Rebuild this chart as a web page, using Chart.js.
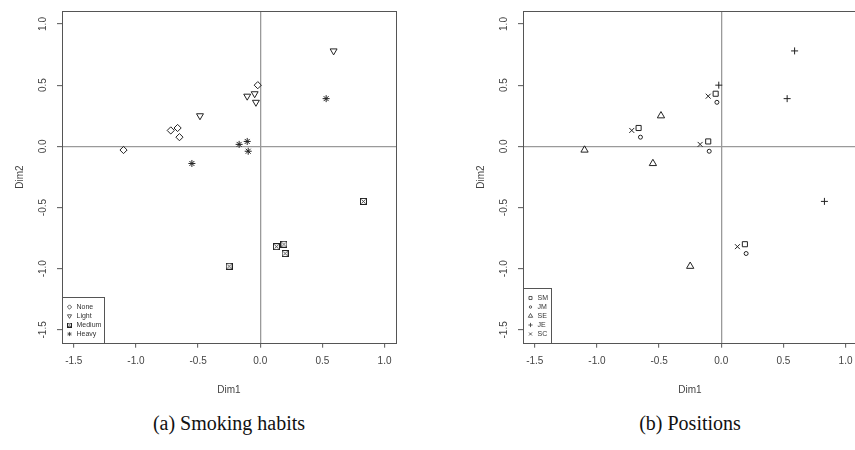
<!doctype html>
<html>
  <head>
    <meta charset="utf-8" />
    <title>Smoking habits / Positions</title>
    <script src="https://cdn.jsdelivr.net/npm/chart.js"></script>
    <style>
      body { margin: 0; width: 855px; height: 450px; overflow: hidden; background: #fff; position: relative; }
      canvas { position: absolute; top: 0; }
      #left { left: 0; }
      #right { left: 461px; }
      .caption {
        position: absolute; top: 413px; width: 300px; text-align: center;
        font-family: "Liberation Serif", serif; font-size: 20px; line-height: 20px; color: #111;
      }
    </style>
  </head>
  <body>
    <canvas id="left" width="427" height="400"></canvas>
    <canvas id="right" width="427" height="400"></canvas>
    <div class="caption" style="left: 79px">(a) Smoking habits</div>
    <div class="caption" style="left: 540px">(b) Positions</div>
    <script>
      const positions = ["SM", "JM", "SE", "JE", "SC"];
      const habits = ["None", "Light", "Medium", "Heavy"];
      // one row per position, one column per smoking habit
      const dim1 = [
        [-0.665, -0.045, 0.19, -0.105],
        [-0.65, -0.035, 0.2, -0.097],
        [-1.1, -0.485, -0.25, -0.55],
        [-0.02, 0.59, 0.83, 0.53],
        [-0.72, -0.105, 0.13, -0.17],
      ];
      const dim2 = [
        [0.15, 0.43, -0.8, 0.04],
        [0.075, 0.36, -0.876, -0.04],
        [-0.03, 0.25, -0.98, -0.14],
        [0.5, 0.78, -0.45, 0.39],
        [0.13, 0.41, -0.82, 0.016],
      ];
      const tickValues = [-1.5, -1.0, -0.5, 0.0, 0.5, 1.0];

      const ink = "#222";
      const axisFont = { family: "'Liberation Sans', Arial, sans-serif", size: 10 };

      // R's pch 7: square with a cross inside
      function boxCross(size) {
        const c = document.createElement("canvas");
        c.width = c.height = size;
        const g = c.getContext("2d");
        g.strokeStyle = ink;
        g.lineWidth = 1;
        g.strokeRect(0.5, 0.5, size - 1, size - 1);
        g.lineWidth = 0.8;
        g.beginPath();
        g.moveTo(1.5, 1.5);
        g.lineTo(size - 1.5, size - 1.5);
        g.moveTo(size - 1.5, 1.5);
        g.lineTo(1.5, size - 1.5);
        g.stroke();
        return c;
      }

      const habitStyles = [
        { pointStyle: "rectRot", pointRadius: 3.6 },
        { pointStyle: "triangle", pointRotation: 180, pointRadius: 4 },
        { pointStyle: boxCross(7), pointRadius: 3.5, legendStyle: boxCross(5) },
        { pointStyle: "star", pointRadius: 3.5 },
      ];
      const positionStyles = [
        { pointStyle: "rect", pointRadius: 3.6 },
        { pointStyle: "circle", pointRadius: 2 },
        { pointStyle: "triangle", pointRadius: 4.2 },
        { pointStyle: "cross", pointRadius: 3.5 },
        { pointStyle: "crossRot", pointRadius: 3.5 },
      ];

      const framePlugin = {
        id: "frame",
        afterDatasetsDraw(chart) {
          const { ctx, chartArea: a } = chart;
          const L = Math.round(a.left) + 0.5;
          const T = Math.round(a.top) + 0.5;
          const B = Math.round(a.bottom) + 0.5;
          ctx.save();
          ctx.strokeStyle = "#555";
          ctx.lineWidth = 1;
          ctx.strokeRect(L, T, Math.round(a.right - a.left), B - T);

          // legend in the bottom-left corner
          const sets = chart.data.datasets;
          ctx.font = "7px 'Liberation Sans', Arial, sans-serif";
          const w = Math.round(Math.max(...sets.map((d) => ctx.measureText(d.label).width)) + 17.5);
          const h = sets.length * 9 + 10;
          ctx.fillStyle = "#fff";
          ctx.fillRect(L, B - h, w, h);
          ctx.strokeRect(L, B - h, w, h);
          sets.forEach((d, i) => {
            const y = B - h + 5 + 9 * (i + 0.5);
            ctx.strokeStyle = "#333";
            ctx.fillStyle = "rgba(0,0,0,0)";
            ctx.lineWidth = 0.8;
            Chart.helpers.drawPoint(
              ctx,
              {
                pointStyle: d.legendStyle || d.pointStyle,
                rotation: d.pointRotation || 0,
                radius: d.pointRadius * 0.6,
                borderWidth: 0.8,
              },
              L + 7,
              y
            );
            ctx.fillStyle = "#333";
            ctx.textBaseline = "middle";
            ctx.textAlign = "left";
            ctx.fillText(d.label, L + 14, y);
          });
          ctx.restore();
        },
      };

      function makeScales() {
        const grid = {
          drawOnChartArea: true,
          drawTicks: true,
          tickLength: 5,
          tickColor: "#555",
          tickWidth: 1,
          lineWidth: 1.3,
          color: (c) => (c.tick && c.tick.value === 0 ? "#9a9a9a" : "rgba(0,0,0,0)"),
        };
        const setTicks = (s) => {
          s.ticks = tickValues.map((v) => ({ value: v }));
        };
        return {
          x: {
            type: "linear",
            min: -1.595,
            max: 1.092,
            afterBuildTicks: setTicks,
            grid: grid,
            border: { display: false },
            ticks: { autoSkip: false, padding: 8, color: "#444", font: axisFont, callback: (v) => v.toFixed(1) },
            title: { display: true, text: "Dim1", color: "#444", font: axisFont, padding: 0 },
            afterFit: (s) => {
              s.height = 53.3;
            },
          },
          y: {
            type: "linear",
            min: -1.605,
            max: 1.103,
            afterBuildTicks: setTicks,
            grid: grid,
            border: { display: false },
            ticks: {
              autoSkip: false,
              minRotation: 90,
              maxRotation: 90,
              crossAlign: "center",
              padding: 5.4,
              color: "#444",
              font: axisFont,
              callback: (v) => v.toFixed(1),
            },
            title: { display: true, text: "Dim2", color: "#444", font: axisFont, padding: { top: 14, bottom: 0 } },
            afterFit: (s) => {
              s.width = 62;
            },
          },
        };
      }

      function makeChart(id, datasets) {
        return new Chart(document.getElementById(id), {
          type: "scatter",
          data: { datasets: datasets },
          options: {
            responsive: false,
            animation: false,
            layout: { padding: { left: 0, top: 8, right: 31, bottom: 4 } },
            plugins: { legend: { display: false }, tooltip: { enabled: false } },
            scales: makeScales(),
          },
          plugins: [framePlugin],
        });
      }

      const pointBase = { borderColor: ink, backgroundColor: "rgba(0,0,0,0)", pointBorderWidth: 1, showLine: false };

      makeChart(
        "left",
        habits.map((h, j) => ({
          label: h,
          data: positions.map((p, i) => ({ x: dim1[i][j], y: dim2[i][j] })),
          ...pointBase,
          ...habitStyles[j],
        }))
      );

      makeChart(
        "right",
        positions.map((p, i) => ({
          label: p,
          data: habits.map((h, j) => ({ x: dim1[i][j], y: dim2[i][j] })),
          ...pointBase,
          ...positionStyles[i],
        }))
      );
    </script>
  </body>
</html>
